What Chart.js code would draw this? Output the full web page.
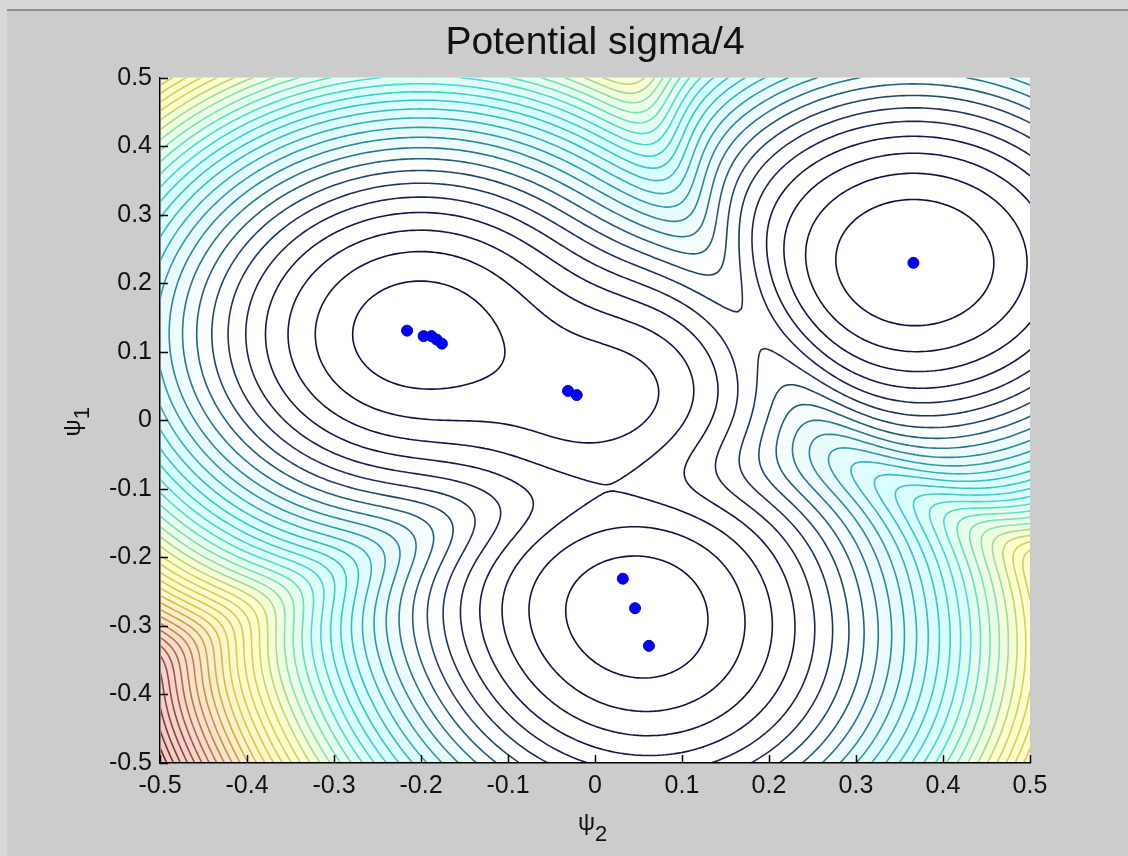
<!DOCTYPE html>
<html>
<head>
<meta charset="utf-8">
<script src="https://cdn.jsdelivr.net/npm/chart.js@4.4.0/dist/chart.umd.min.js"></script>
<style>
  html, body { margin: 0; padding: 0; background: #cccccc; }
  #wrap { width: 1128px; height: 856px; position: relative; overflow: hidden; }
  #frameTop { position: absolute; left: 0; top: 0; width: 1128px; height: 9px; background: #d8d8d8; border-bottom: 2px solid #8c8c8c; }
  #frameLeft { position: absolute; left: 0; top: 0; width: 7px; height: 856px; background: #d8d8d8; }
  canvas { position: absolute; left: 0; top: 0; }
</style>
</head>
<body>
<div id="wrap">
  <canvas id="potChart" width="1128" height="856"></canvas>
  <div id="frameTop"></div>
  <div id="frameLeft"></div>
</div>
<script>
// cluster points: psi2 = horizontal, psi1 = vertical
const psi2 = [-0.216, -0.197, -0.188, -0.182, -0.176, -0.031, -0.021, 0.032, 0.046, 0.062, 0.366];
const psi1 = [0.131, 0.123, 0.123, 0.118, 0.112, 0.043, 0.037, -0.231, -0.274, -0.329, 0.230];
const tickValues = [-0.5, -0.4, -0.3, -0.2, -0.1, 0, 0.1, 0.2, 0.3, 0.4, 0.5];

const sigma = 0.1;
const levelCount = 40;
const gridSize = 221;

// colours for the contour lines and the faint tint between them
const lineStops = [
  [0.00, [15, 15, 60]],
  [0.10, [20, 25, 75]],
  [0.16, [30, 60, 95]],
  [0.22, [40, 120, 135]],
  [0.30, [55, 180, 190]],
  [0.40, [70, 215, 215]],
  [0.48, [130, 225, 190]],
  [0.55, [200, 215, 90]],
  [0.66, [215, 205, 60]],
  [0.78, [200, 130, 70]],
  [0.88, [160, 70, 60]],
  [1.00, [110, 30, 30]]
];
const tintStops = [
  [0.00, [255, 255, 255]],
  [0.18, [255, 255, 255]],
  [0.25, [232, 250, 250]],
  [0.35, [215, 255, 255]],
  [0.48, [235, 255, 228]],
  [0.56, [255, 255, 205]],
  [0.70, [255, 240, 205]],
  [0.85, [245, 215, 205]],
  [1.00, [235, 200, 195]]
];

function pickColor(stops, t) {
  t = Math.max(0, Math.min(1, t));
  for (let i = 1; i < stops.length; i++) {
    if (t <= stops[i][0]) {
      const a = stops[i - 1], b = stops[i];
      const f = (t - a[0]) / (b[0] - a[0]);
      const c = a[1].map((v, k) => Math.round(v + (b[1][k] - v) * f));
      return 'rgb(' + c.join(',') + ')';
    }
  }
  return 'rgb(' + stops[stops.length - 1][1].join(',') + ')';
}

// quantum-clustering style potential built from the points
function potential(x, y) {
  let num = 0, den = 0;
  for (let k = 0; k < psi2.length; k++) {
    const dx = x - psi2[k], dy = y - psi1[k];
    const r2 = dx * dx + dy * dy;
    const g = Math.exp(-r2 / (2 * sigma * sigma));
    num += g * r2;
    den += g;
  }
  return num / den;
}

const step = 1 / (gridSize - 1);
const field = [];
let vMin = Infinity, vMax = -Infinity;
for (let j = 0; j < gridSize; j++) {
  const row = new Float64Array(gridSize);
  for (let i = 0; i < gridSize; i++) {
    row[i] = potential(-0.5 + i * step, -0.5 + j * step);
    if (row[i] < vMin) vMin = row[i];
    if (row[i] > vMax) vMax = row[i];
  }
  field.push(row);
}
const levels = [];
for (let k = 1; k <= levelCount; k++) levels.push(vMin + (vMax - vMin) * k / (levelCount + 1));

// marching squares: returns [x1, y1, x2, y2] segments in data units
function contourSegments(lev) {
  const segs = [];
  for (let j = 0; j < gridSize - 1; j++) {
    for (let i = 0; i < gridSize - 1; i++) {
      const a = field[j][i], b = field[j][i + 1], c = field[j + 1][i + 1], d = field[j + 1][i];
      const idx = (a > lev ? 1 : 0) | (b > lev ? 2 : 0) | (c > lev ? 4 : 0) | (d > lev ? 8 : 0);
      if (idx === 0 || idx === 15) continue;
      const x0 = -0.5 + i * step, y0 = -0.5 + j * step, x1 = x0 + step, y1 = y0 + step;
      const B = [x0 + step * (lev - a) / (b - a), y0];
      const R = [x1, y0 + step * (lev - b) / (c - b)];
      const T = [x0 + step * (lev - d) / (c - d), y1];
      const L = [x0, y0 + step * (lev - a) / (d - a)];
      const add = (p, q) => segs.push([p[0], p[1], q[0], q[1]]);
      if (idx === 5 || idx === 10) {
        const mid = (a + b + c + d) / 4 > lev;
        if ((idx === 5) === mid) { add(B, R); add(T, L); }
        else { add(L, B); add(R, T); }
        continue;
      }
      const pts = [];
      if ((a > lev) !== (b > lev)) pts.push(B);
      if ((b > lev) !== (c > lev)) pts.push(R);
      if ((c > lev) !== (d > lev)) pts.push(T);
      if ((d > lev) !== (a > lev)) pts.push(L);
      if (pts.length === 2) add(pts[0], pts[1]);
    }
  }
  return segs;
}
const contours = levels.map(lev => ({
  t: (lev - vMin) / (vMax - vMin),
  segs: contourSegments(lev)
}));

const contourPlugin = {
  id: 'contourPlugin',
  beforeDraw(chart) {
    const { ctx, chartArea } = chart;
    if (!chartArea) return;
    ctx.save();
    ctx.fillStyle = '#ffffff';
    ctx.fillRect(chartArea.left, chartArea.top, chartArea.right - chartArea.left, chartArea.bottom - chartArea.top);
    ctx.restore();
  },
  beforeDatasetsDraw(chart) {
    const { ctx, chartArea, scales } = chart;
    const sx = v => scales.x.getPixelForValue(v);
    const sy = v => scales.y.getPixelForValue(v);
    ctx.save();
    ctx.beginPath();
    ctx.rect(chartArea.left + 1, chartArea.top, chartArea.right - chartArea.left - 1, chartArea.bottom - chartArea.top - 1);
    ctx.clip();
    // faint tint
    for (let j = 0; j < gridSize - 1; j++) {
      for (let i = 0; i < gridSize - 1; i++) {
        const v = (field[j][i] + field[j][i + 1] + field[j + 1][i] + field[j + 1][i + 1]) / 4;
        const t = (v - vMin) / (vMax - vMin);
        if (t < 0.18) continue;
        const xa = Math.floor(sx(-0.5 + i * step)), xb = Math.ceil(sx(-0.5 + (i + 1) * step));
        const ya = Math.floor(sy(-0.5 + (j + 1) * step)), yb = Math.ceil(sy(-0.5 + j * step));
        ctx.fillStyle = pickColor(tintStops, t);
        ctx.fillRect(xa, ya, xb - xa, yb - ya);
      }
    }
    // contour lines
    ctx.lineWidth = 1.6;
    ctx.lineCap = 'round';
    contours.forEach(c => {
      ctx.strokeStyle = pickColor(lineStops, c.t);
      ctx.beginPath();
      c.segs.forEach(s => {
        ctx.moveTo(sx(s[0]), sy(s[1]));
        ctx.lineTo(sx(s[2]), sy(s[3]));
      });
      ctx.stroke();
    });
    ctx.restore();
  },
  afterDraw(chart) {
    const { ctx, chartArea, scales } = chart;
    ctx.save();
    // inward tick marks
    ctx.strokeStyle = '#000';
    ctx.lineWidth = 1.5;
    ctx.beginPath();
    tickValues.forEach(v => {
      const px = Math.round(scales.x.getPixelForValue(v)) + 0.5;
      ctx.moveTo(px, chartArea.bottom);
      ctx.lineTo(px, chartArea.bottom - 8);
      const py = Math.round(scales.y.getPixelForValue(v)) + 0.5;
      ctx.moveTo(chartArea.left, py);
      ctx.lineTo(chartArea.left + 8, py);
    });
    ctx.stroke();
    // axis titles with subscripts
    ctx.fillStyle = '#111';
    ctx.textBaseline = 'alphabetic';
    ctx.textAlign = 'left';
    const cx = (chartArea.left + chartArea.right) / 2;
    ctx.font = '24px "Liberation Sans", Arial, sans-serif';
    const wPsi = ctx.measureText('\u03c8').width;
    ctx.fillText('\u03c8', cx - 17, 830);
    ctx.font = '22px "Liberation Sans", Arial, sans-serif';
    ctx.fillText('2', cx - 17 + wPsi, 841);
    ctx.translate(80, (chartArea.top + chartArea.bottom) / 2 + 16);
    ctx.rotate(-Math.PI / 2);
    ctx.font = '24px "Liberation Sans", Arial, sans-serif';
    ctx.fillText('\u03c8', 0, 0);
    ctx.font = '22px "Liberation Sans", Arial, sans-serif';
    ctx.fillText('1', wPsi, 9);
    ctx.restore();
  }
};

const tickFont = { family: '"Liberation Sans", Arial, sans-serif', size: 25 };
const tickLabel = v => (Math.abs(v) < 1e-9 ? '0' : (Math.round(v * 10) / 10).toFixed(1));

new Chart(document.getElementById('potChart'), {
  type: 'scatter',
  data: {
    datasets: [{
      label: 'points',
      data: psi2.map((x, i) => ({ x: x, y: psi1[i] })),
      backgroundColor: '#0000ff',
      borderColor: '#0000c8',
      borderWidth: 1,
      pointRadius: 5.5,
      pointHoverRadius: 5.5
    }]
  },
  options: {
    responsive: false,
    animation: false,
    events: [],
    layout: { padding: { left: 0, right: 98, top: 0, bottom: 0 } },
    plugins: {
      legend: { display: false },
      tooltip: { enabled: false },
      title: {
        display: true,
        fullSize: false,
        text: 'Potential sigma/4',
        color: '#111',
        font: { family: '"Liberation Sans", Arial, sans-serif', size: 39, weight: 'normal' },
        padding: { top: 20, bottom: 11 }
      }
    },
    scales: {
      x: {
        type: 'linear',
        min: -0.5,
        max: 0.5,
        afterFit(scale) { scale.height = 93; },
        afterBuildTicks(scale) { scale.ticks = tickValues.map(v => ({ value: v })); },
        grid: { display: false, drawTicks: false },
        border: { display: true, color: '#000', width: 1.5 },
        ticks: { color: '#111', font: tickFont, padding: 8, maxRotation: 0, callback: tickLabel }
      },
      y: {
        type: 'linear',
        min: -0.5,
        max: 0.5,
        afterFit(scale) { scale.width = 160; },
        afterBuildTicks(scale) { scale.ticks = tickValues.map(v => ({ value: v })); },
        grid: { display: false, drawTicks: false },
        border: { display: true, color: '#000', width: 1.5 },
        ticks: { color: '#111', font: tickFont, padding: 8, callback: tickLabel }
      }
    }
  },
  plugins: [contourPlugin]
});
</script>
</body>
</html>
